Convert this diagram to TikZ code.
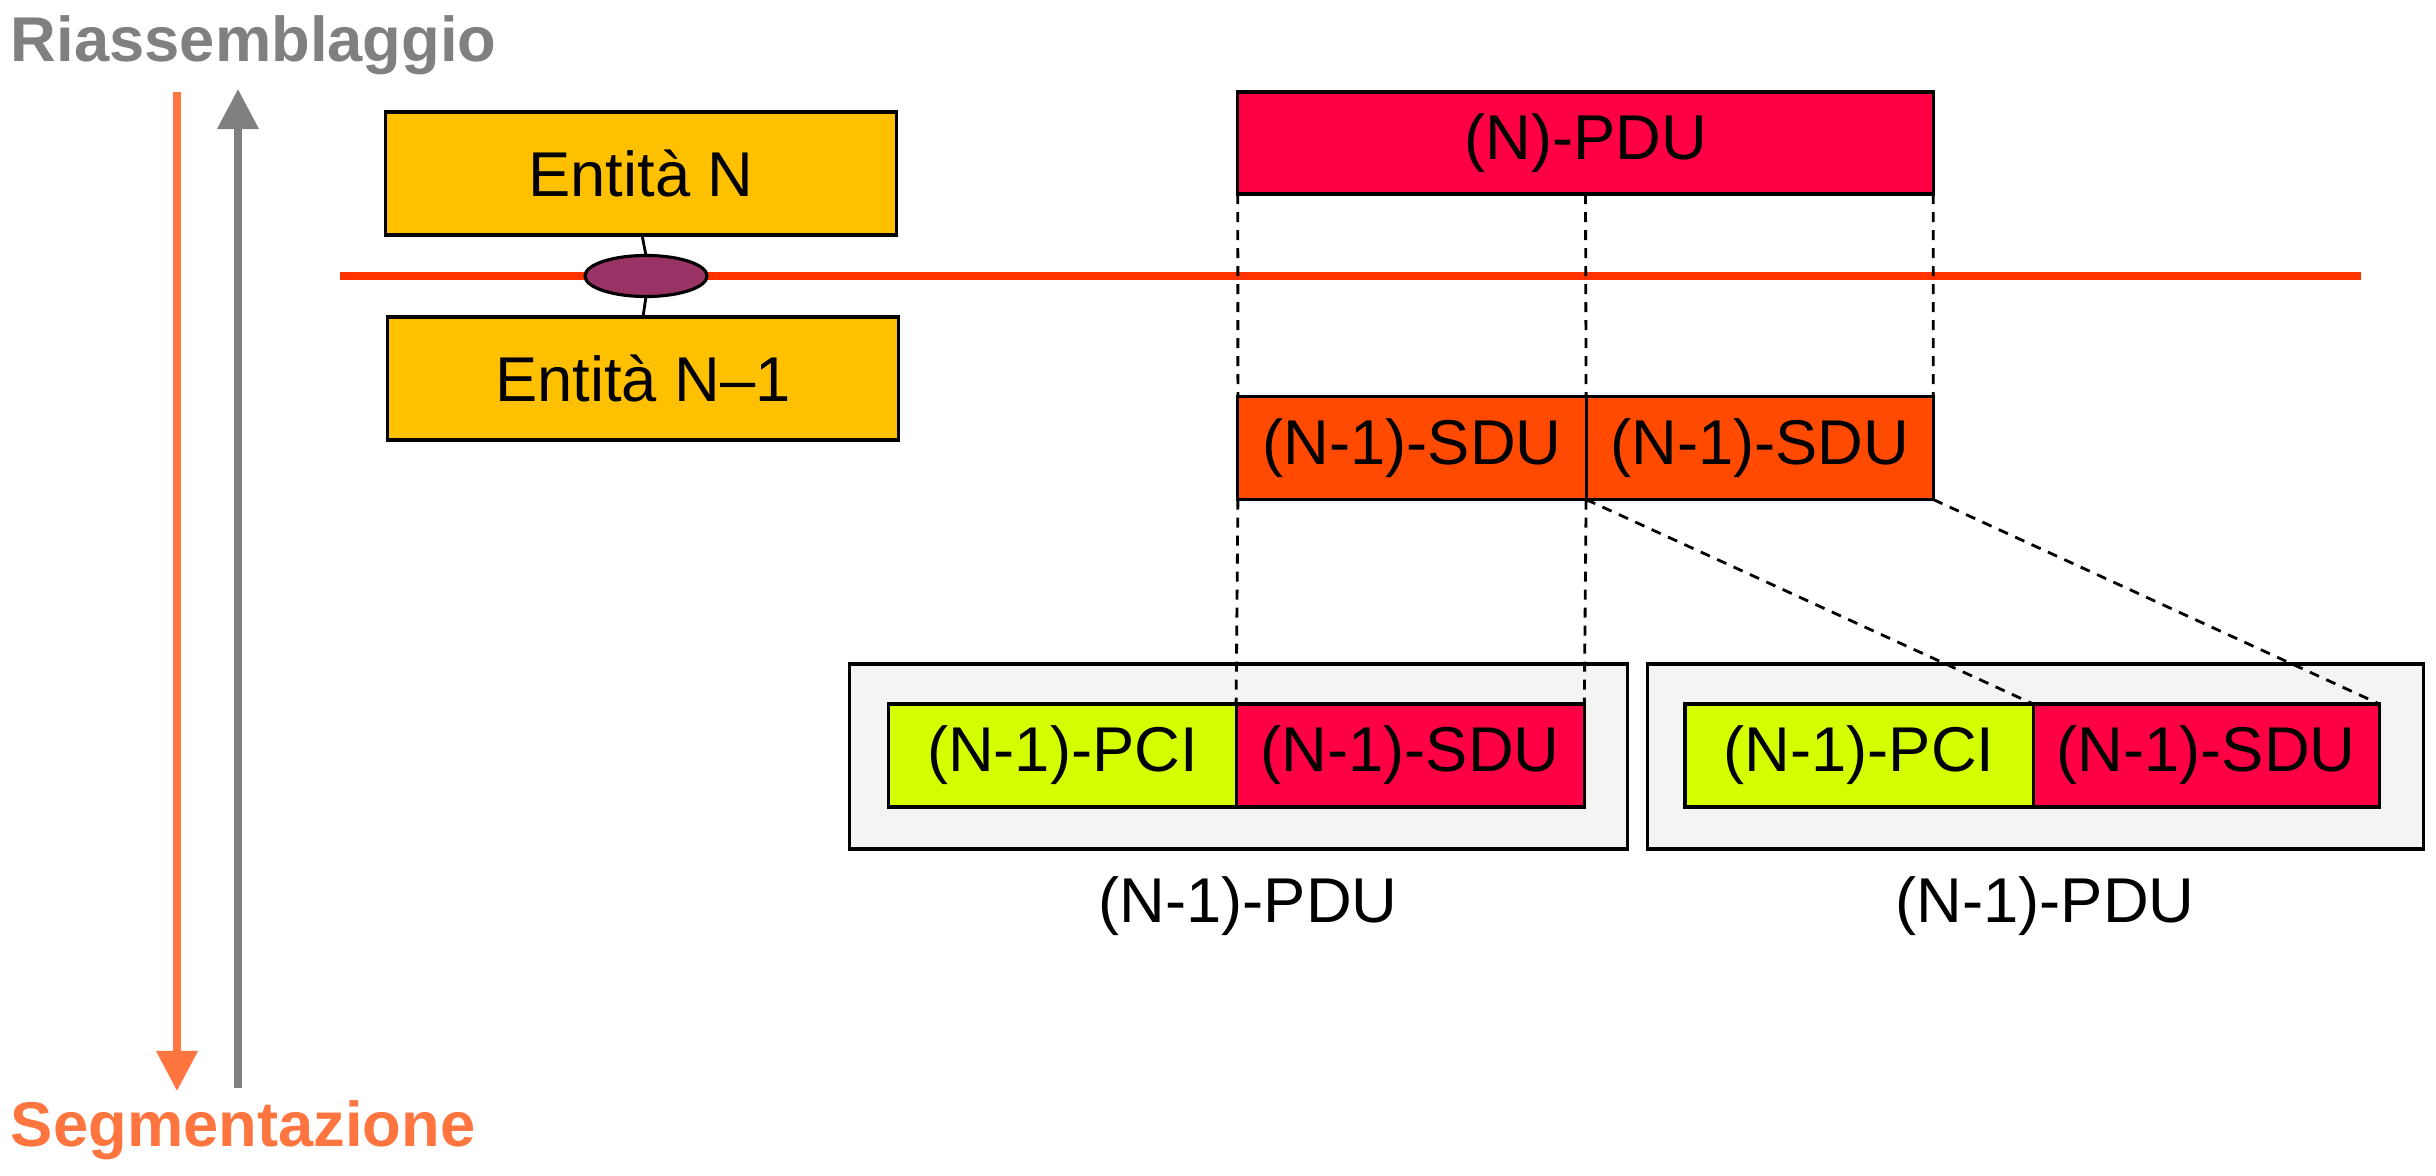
\documentclass[tikz,border=0pt]{standalone}
\usepackage{fontspec}
\setmainfont{Liberation Sans}
\usetikzlibrary{positioning,arrows.meta,shapes.geometric}
\definecolor{entitygold}{HTML}{FFC000}
\definecolor{sappurple}{HTML}{993366}
\definecolor{layerred}{HTML}{FF3300}
\definecolor{pdupink}{HTML}{FF0045}
\definecolor{sduorange}{HTML}{FF4A00}
\definecolor{pcilime}{HTML}{D4FF00}
\definecolor{framegray}{HTML}{F4F4F2}
\definecolor{segorange}{HTML}{FF7540}
\definecolor{reagray}{HTML}{808080}
\tikzset{
	% ------- every something
	every node/.style={
		font=\fontsize{18}{22}\selectfont,
		inner sep=0pt,
		outer sep=0pt,
	},
	% ------- custom
	box/.style={
		draw,
		line width=0.9pt,
		minimum height=1.03cm,
	},
	entity/.style={
		box,
		fill=entitygold,
		minimum width=5.11cm,
		minimum height=1.23cm,
	},
	frame/.style={
		box,
		fill=framegray,
		minimum height=1.85cm,
	},
	direction/.style={
		line width=2pt,
		-{Triangle[length=4mm,width=4mm]},
	},
	title/.style={
		font=\fontsize{18}{22}\selectfont\bfseries,
		anchor=base west,
	},
	projection/.style={
		line width=0.8pt,
		dash pattern=on 1mm off 0.8mm,
	},
}

\begin{document}
\begin{tikzpicture}[x=0.01cm,y=-0.01cm]

% bounding box %{{{2

	\useasboundingbox (0,0) rectangle (2436,1176);

% coordinates %{{{2

	\coordinate (segTop) at (177,92);
	\coordinate (segEnd) at (177,1091);
	\coordinate (reaBot) at (238,1088);
	\coordinate (reaEnd) at (238,89);
	\coordinate (layerL) at (340,276);
	\coordinate (layerR) at (2361,276);

% direction arrows %{{{2

	\draw[direction, segorange] (segTop) -- (segEnd);
	\draw[direction, reagray] (reaBot) -- (reaEnd);

	\node[title, text=reagray] (rea) at (11,62) {Riassemblaggio};
	\node[title, text=segorange] (seg) at (11,1146) {Segmentazione};

% layers %{{{2

	\draw[line width=2pt, layerred] (layerL) -- (layerR);

	\node[entity] (entN) at (641,173.5) {Entità N};
	\node[entity] (entNm) at (643,378.5) {Entità N\textendash1};
	\node[draw, line width=0.9pt, ellipse, fill=sappurple,
		minimum width=1.22cm, minimum height=0.41cm] (sap) at (646,276) {};

	\draw[line width=0.8pt] (entN.south) ++(1,0) -- (sap.north);
	\draw[line width=0.8pt] (sap.south) -- (entNm.north);

% frames %{{{2

	\node[frame, minimum width=7.77cm] (pdu1) at (1238.5,756.5) {};
	\node[frame, minimum width=7.75cm] (pdu2) at (2035.5,756.5) {};

% data units %{{{2

	\node[box, fill=pdupink, minimum width=6.95cm, minimum height=1.02cm] (npdu) at (1585.5,143) {(N)-PDU};

	\node[box, fill=sduorange, minimum width=3.48cm] (sdu1) at (1412,448) {(N-1)-SDU};
	\node[box, fill=sduorange, minimum width=3.47cm, right=0pt of sdu1] (sdu2) {(N-1)-SDU};

	\node[box, fill=pcilime, minimum width=3.47cm] (pci1) at (1062.5,755.5) {(N-1)-PCI};
	\node[box, fill=pdupink, minimum width=3.48cm, right=0pt of pci1] (sdu3) {(N-1)-SDU};

	\node[box, fill=pcilime, minimum width=3.48cm] (pci2) at (1859,755.5) {(N-1)-PCI};
	\node[box, fill=pdupink, minimum width=3.46cm, right=0pt of pci2] (sdu4) {(N-1)-SDU};

% projections %{{{2

	\draw[projection] (npdu.south west) -- (sdu1.north west);
	\draw[projection] (npdu.south) -- (sdu1.north east);
	\draw[projection] (npdu.south east) -- (sdu2.north east);

	\draw[projection] (sdu1.south west) -- (sdu3.north west);
	\draw[projection] (sdu1.south east) -- (sdu3.north east);

	\draw[projection] (sdu2.south west) -- (sdu4.north west);
	\draw[projection] (sdu2.south east) -- (sdu4.north east);

% frames labels %{{{2

	\node[anchor=base] (lab1) at (1248,922) {(N-1)-PDU};
	\node[anchor=base] (lab2) at (2045,922) {(N-1)-PDU};

% closing %{{{2

\end{tikzpicture}
\end{document}
